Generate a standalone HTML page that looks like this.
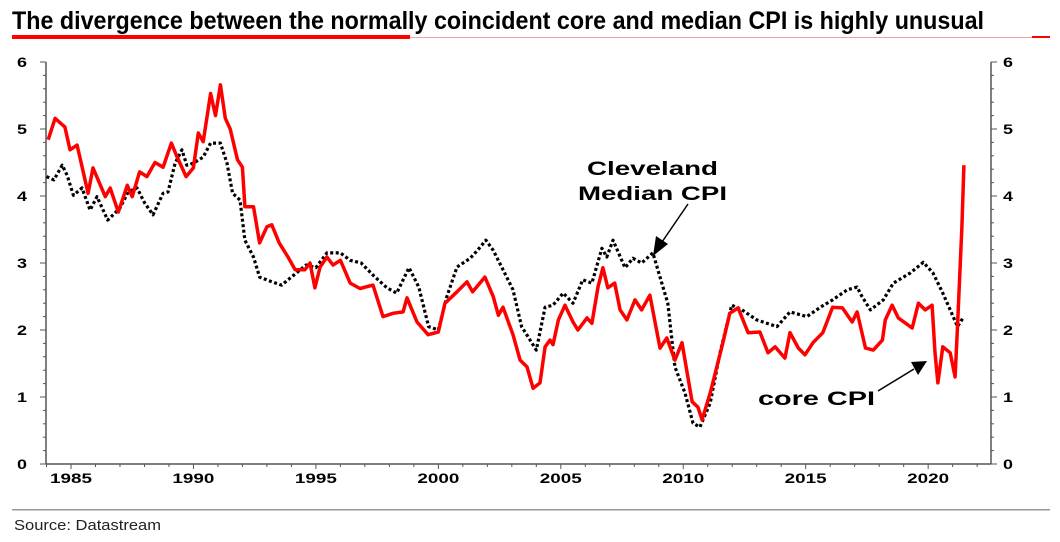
<!DOCTYPE html>
<html><head><meta charset="utf-8"><style>
html,body{margin:0;padding:0;background:#fff;}
svg{display:block;font-family:"Liberation Sans",Arial,sans-serif;}
</style></head><body>
<svg id="chart" width="1060" height="542" viewBox="0 0 1060 542" xmlns="http://www.w3.org/2000/svg">
<text x="12" y="29" font-family="'Liberation Sans Narrow','Liberation Sans',sans-serif" font-weight="bold" font-size="25" textLength="972" lengthAdjust="spacingAndGlyphs" fill="#000">The divergence between the normally coincident core and median CPI is highly unusual</text>
<rect x="12" y="37" width="1038" height="1" fill="#f4a0a0"/>
<rect x="12" y="35" width="398" height="4" fill="#ff0000"/>
<rect x="1032" y="36" width="18" height="2" fill="#ff0000"/>
<g id="axes"></g>
<g id="series"></g>
<text x="587" y="175" font-weight="bold" font-size="19" textLength="131" lengthAdjust="spacingAndGlyphs">Cleveland</text>
<text x="578" y="200" font-weight="bold" font-size="19" textLength="149" lengthAdjust="spacingAndGlyphs">Median CPI</text>
<line x1="688" y1="204" x2="662" y2="242" stroke="#000" stroke-width="1.5"/>
<polygon points="653,256 656,236 668,244" fill="#000"/>
<text x="758" y="405" font-weight="bold" font-size="19" textLength="117" lengthAdjust="spacingAndGlyphs">core CPI</text>
<line x1="878" y1="391" x2="914" y2="369" stroke="#000" stroke-width="1.5"/>
<polygon points="927,361 911,362 918,375" fill="#000"/>
<rect x="12" y="509" width="1038" height="1.5" fill="#999"/>
<text x="14" y="530" font-family="'Liberation Sans Narrow','Liberation Sans',sans-serif" font-size="15" fill="#222" textLength="147" lengthAdjust="spacingAndGlyphs">Source: Datastream</text>
</svg>
<script>
const coreDates = [1984.07,1984.35,1984.75,1984.96,1985.25,1985.7,1985.9,1986.4,1986.6,1986.93,1987.3,1987.5,1987.8,1988.1,1988.43,1988.76,1989.1,1989.3,1989.7,1990.0,1990.2,1990.4,1990.7,1990.9,1991.1,1991.3,1991.5,1991.8,1992.0,1992.1,1992.45,1992.7,1993.0,1993.2,1993.5,1993.86,1994.15,1994.55,1994.76,1994.96,1995.17,1995.45,1995.7,1996.0,1996.4,1996.8,1997.33,1997.74,1998.15,1998.56,1998.72,1999.13,1999.58,2000.0,2000.27,2000.76,2001.17,2001.4,2001.9,2002.24,2002.45,2002.64,2003.05,2003.34,2003.62,2003.87,2004.15,2004.36,2004.56,2004.68,2004.9,2005.17,2005.5,2005.7,2006.07,2006.27,2006.52,2006.72,2006.92,2007.2,2007.42,2007.7,2008.03,2008.3,2008.64,2009.05,2009.33,2009.66,2009.95,2010.36,2010.6,2010.77,2011.1,2011.58,2011.9,2012.24,2012.65,2013.13,2013.46,2013.75,2014.15,2014.36,2014.7,2014.97,2015.3,2015.7,2016.1,2016.5,2016.9,2017.1,2017.44,2017.76,2018.13,2018.25,2018.53,2018.78,2019.35,2019.6,2019.88,2020.16,2020.28,2020.4,2020.6,2020.9,2021.1,2021.2,2021.38,2021.46];
const coreValues = [4.84,5.16,5.03,4.69,4.76,4.04,4.42,3.99,4.12,3.76,4.16,3.99,4.36,4.29,4.5,4.43,4.79,4.61,4.29,4.42,4.94,4.81,5.53,5.2,5.66,5.16,5.0,4.54,4.43,3.84,3.84,3.3,3.54,3.57,3.3,3.09,2.9,2.9,3.0,2.63,2.94,3.09,2.97,3.04,2.7,2.62,2.67,2.2,2.25,2.27,2.48,2.12,1.93,1.97,2.4,2.57,2.72,2.57,2.79,2.5,2.22,2.34,1.93,1.55,1.45,1.13,1.21,1.75,1.85,1.78,2.15,2.37,2.12,2.0,2.18,2.1,2.64,2.93,2.63,2.7,2.3,2.15,2.45,2.3,2.52,1.73,1.88,1.55,1.81,0.93,0.85,0.66,1.06,1.75,2.25,2.33,1.96,1.97,1.66,1.75,1.58,1.96,1.73,1.63,1.81,1.96,2.34,2.33,2.12,2.27,1.73,1.7,1.85,2.15,2.37,2.18,2.03,2.4,2.3,2.37,1.66,1.21,1.75,1.66,1.3,2.05,3.54,4.46];
const medianDates = [1984.0,1984.3,1984.64,1984.84,1985.1,1985.45,1985.78,1986.06,1986.5,1987.0,1987.33,1987.7,1988.0,1988.35,1988.76,1988.96,1989.25,1989.53,1989.73,1990.0,1990.4,1990.7,1991.1,1991.37,1991.6,1991.9,1992.1,1992.45,1992.7,1993.2,1993.6,1994.0,1994.6,1995.0,1995.45,1996.0,1996.4,1996.85,1997.33,1997.9,1998.3,1998.8,1999.2,1999.6,2000.0,2000.35,2000.76,2001.3,2001.6,2001.94,2002.24,2002.64,2003.05,2003.4,2003.66,2004.0,2004.36,2004.68,2005.1,2005.5,2005.9,2006.27,2006.68,2006.88,2007.13,2007.62,2007.95,2008.3,2008.76,2009.05,2009.37,2009.66,2010.07,2010.4,2010.68,2011.1,2011.5,2011.98,2012.4,2013.0,2013.83,2014.36,2015.05,2015.6,2016.1,2016.7,2017.1,2017.3,2017.64,2018.17,2018.58,2019.27,2019.8,2020.2,2020.6,2020.96,2021.2,2021.46];
const medianValues = [4.29,4.24,4.46,4.31,4.01,4.12,3.79,3.99,3.64,3.82,4.06,4.12,3.9,3.72,4.04,4.06,4.49,4.69,4.46,4.49,4.58,4.79,4.79,4.49,4.04,3.94,3.34,3.09,2.79,2.72,2.67,2.79,2.97,2.93,3.15,3.15,3.04,3.0,2.82,2.63,2.55,2.93,2.64,2.05,2.0,2.5,2.94,3.07,3.19,3.34,3.19,2.9,2.6,2.05,1.9,1.7,2.34,2.37,2.55,2.4,2.75,2.7,3.22,3.09,3.34,2.93,3.07,3.0,3.15,2.79,2.4,1.45,1.06,0.61,0.55,0.91,1.66,2.37,2.3,2.15,2.05,2.27,2.2,2.34,2.45,2.6,2.64,2.5,2.3,2.45,2.7,2.85,3.01,2.85,2.55,2.25,2.05,2.2];
const yTicks = [0,1,2,3,4,5,6];
const xTickYears = [1985,1990,1995,2000,2005,2010,2015,2020];

const NS = 'http://www.w3.org/2000/svg';
const L = 46, R = 991, Y0 = 464, Y6 = 62;
const x = yr => 71 + (yr - 1985) * 24.49;
const y = v => Y0 - (v / 6) * (Y0 - Y6);
function mk(tag, attrs, parent) {
  const e = document.createElementNS(NS, tag);
  for (const k in attrs) e.setAttribute(k, attrs[k]);
  parent.appendChild(e);
  return e;
}
const axes = document.getElementById('axes');
let e;
e = mk('line', {x1: L, y1: Y6, x2: L, y2: Y0, stroke: '#555', 'stroke-width': 1.5}, axes);


e = mk('line', {x1: R, y1: Y6, x2: R, y2: Y0, stroke: '#555', 'stroke-width': 1.5}, axes);


e = mk('line', {x1: L, y1: Y0, x2: R, y2: Y0, stroke: '#555', 'stroke-width': 1.5}, axes);


for (let v = 0; v <= 6.001; v += 0.2) {
  const major = Math.abs(v - Math.round(v)) < 0.01;
  const len = major ? 6 : 3;
  e = mk('line', {x1: L - len, y1: y(v), x2: L, y2: y(v), stroke: '#555', 'stroke-width': 1}, axes);
  
  
  e = mk('line', {x1: R, y1: y(v), x2: R + len, y2: y(v), stroke: '#555', 'stroke-width': 1}, axes);
  
  
}
yTicks.forEach(v => {
  e = mk('text', {x: 27, y: y(v) + 5, 'text-anchor': 'end', 'font-weight': 'bold', 'font-size': 14, textLength: 10, lengthAdjust: 'spacingAndGlyphs'}, axes);
  e.textContent = v;
  
  
  e = mk('text', {x: 1003, y: y(v) + 5, 'font-weight': 'bold', 'font-size': 14, textLength: 10, lengthAdjust: 'spacingAndGlyphs'}, axes);
  e.textContent = v;
  
  
});
for (let yr = 1984; yr <= 2022; yr++) {
  e = mk('line', {x1: x(yr), y1: Y0, x2: x(yr), y2: Y0 + (yr % 5 === 0 ? 5 : 3), stroke: '#555', 'stroke-width': 1}, axes);
  
  
}
xTickYears.forEach(yr => {
  e = mk('text', {x: x(yr) - 21, y: Y0 + 19, 'font-weight': 'bold', 'font-size': 14, textLength: 42, lengthAdjust: 'spacingAndGlyphs'}, axes);
  e.textContent = yr;
  
  
});
const series = document.getElementById('series');
const pts = (d, v) => d.map((t, i) => x(t).toFixed(1) + ',' + y(v[i]).toFixed(1)).join(' ');
e = mk('polyline', {points: pts(medianDates, medianValues), fill: 'none', stroke: '#000', 'stroke-width': 3.2, 'stroke-dasharray': '3 2.5', 'stroke-linejoin': 'round'}, series);


e = mk('polyline', {points: pts(coreDates, coreValues), fill: 'none', stroke: '#ff0000', 'stroke-width': 3.5, 'stroke-linejoin': 'round'}, series);


</script>
</body></html>
